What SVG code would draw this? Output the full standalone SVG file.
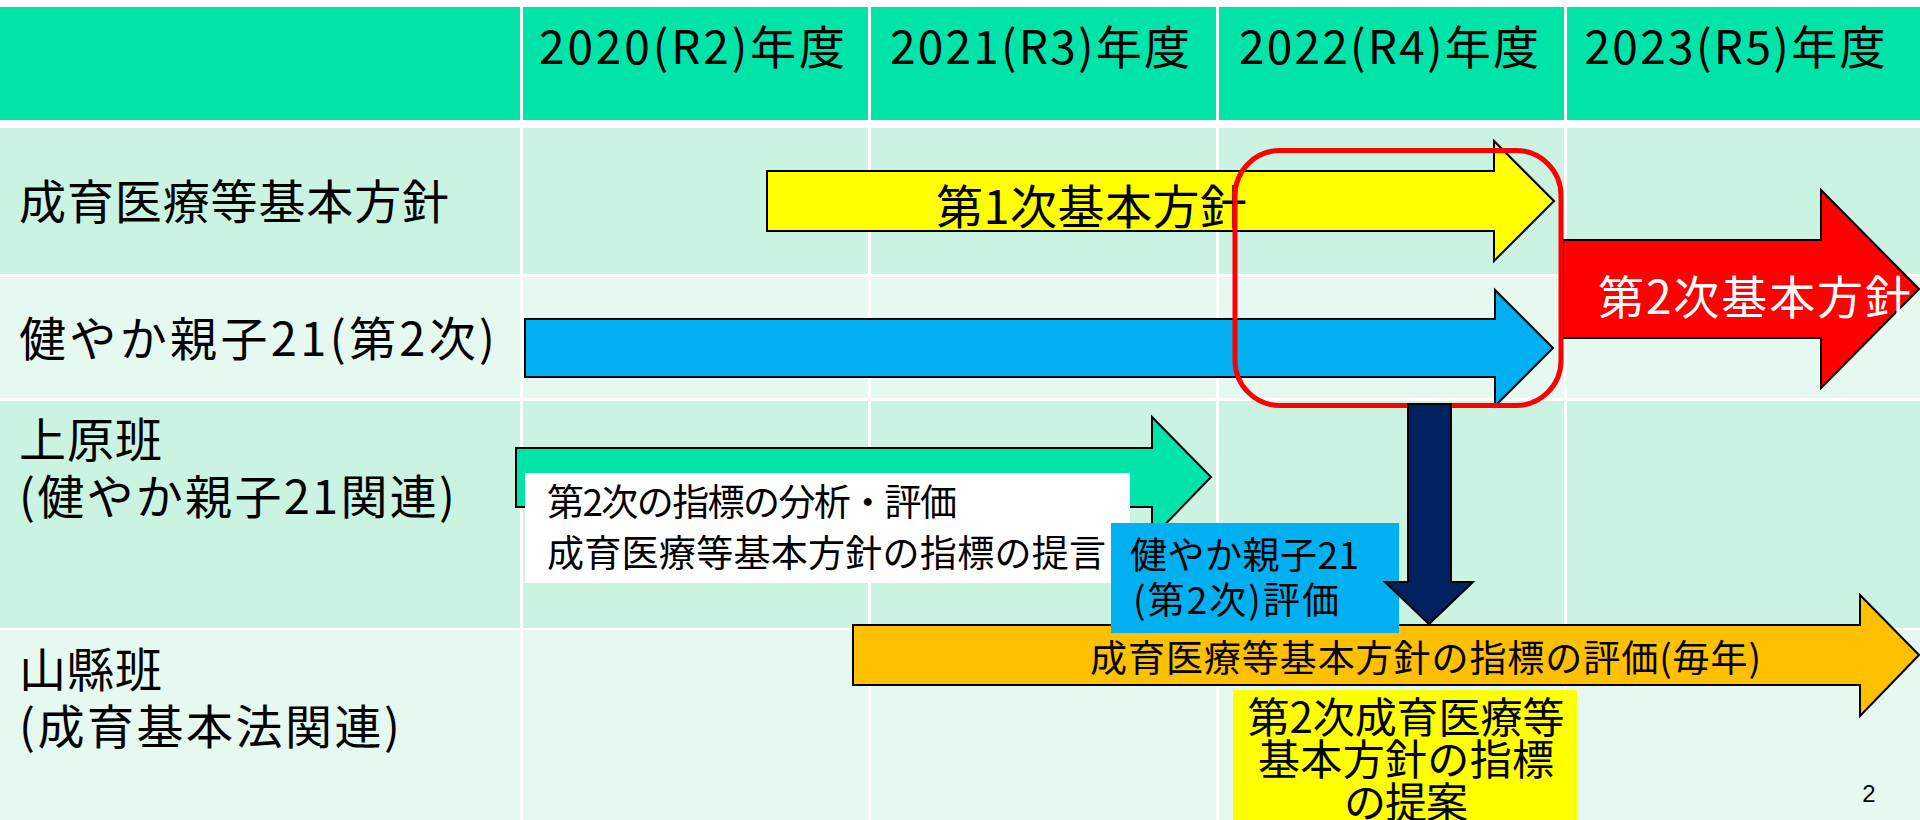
<svg xmlns="http://www.w3.org/2000/svg" width="1920" height="820" viewBox="0 0 1920 820">
<style>
.t{font-family:'Noto Sans CJK JP','Noto Sans',sans-serif;fill:#000}
.hd{font-size:46px}
.lb{font-size:47px}
.sm{font-size:37px}
.md{font-size:42px}
.ar{stroke:#000;stroke-width:2;stroke-linejoin:miter}
.vl{fill:#fff}
</style>
<rect width="1920" height="820" fill="#fff"/>
<g id="table">
  <rect x="0" y="7" width="1920" height="113" fill="#00E3A9"/>
  <rect x="0" y="128" width="1920" height="146" fill="#CBF3E1"/>
  <rect x="0" y="277" width="1920" height="121" fill="#E5F9F0"/>
  <rect x="0" y="401" width="1920" height="227" fill="#CBF3E1"/>
  <rect x="0" y="630" width="1920" height="190" fill="#E5F9F0"/>
  <rect class="vl" x="520" y="7" width="3" height="813"/>
  <rect class="vl" x="868" y="7" width="3" height="813"/>
  <rect class="vl" x="1216" y="7" width="3" height="813"/>
  <rect class="vl" x="1564" y="7" width="3" height="813"/>
</g>
<g id="header">
  <text class="t hd" x="692" y="64" text-anchor="middle" textLength="306">2020(R2)年度</text>
  <text class="t hd" x="1040" y="64" text-anchor="middle" textLength="300">2021(R3)年度</text>
  <text class="t hd" x="1389" y="64" text-anchor="middle" textLength="300">2022(R4)年度</text>
  <text class="t hd" x="1735" y="64" text-anchor="middle" textLength="301">2023(R5)年度</text>
</g>
<g id="row-labels">
  <text class="t lb" x="19" y="219" textLength="430">成育医療等基本方針</text>
  <text class="t lb" x="19" y="356" textLength="476">健やか親子21(第2次)</text>
  <text class="t lb" x="19" y="457" textLength="143">上原班</text>
  <text class="t lb" x="19" y="514" textLength="436">(健やか親子21関連)</text>
  <text class="t lb" x="19" y="687" textLength="143">山縣班</text>
  <text class="t lb" x="19" y="744" textLength="381">(成育基本法関連)</text>
</g>
<g id="first-policy">
  <polygon class="ar" fill="#FFFF00" points="767,171 1494,171 1494,141 1554,201 1494,261 1494,231 767,231"/>
  <text class="t lb" x="936" y="224" textLength="311">第1次基本方針</text>
</g>
<g id="sukoyaka-oyako">
  <polygon class="ar" fill="#00B0F0" points="525,319 1495,319 1495,290 1553,348 1495,406 1495,377 525,377"/>
</g>
<g id="second-policy">
  <polygon class="ar" fill="#FF0000" points="1563,240 1821,240 1821,190 1919,289 1821,388 1821,338 1563,338"/>
  <text class="t hd" x="1598" y="314" textLength="313" style="fill:#fff">第2次基本方針</text>
</g>
<g id="highlight">
  <rect x="1235" y="150.5" width="326" height="255" rx="45" ry="45" fill="none" stroke="#FF0000" stroke-width="5"/>
</g>
<g id="uehara">
  <polygon class="ar" fill="#00E3A9" points="516,448 1152,448 1152,417 1211,477 1152,538 1152,507 516,507"/>
  <rect x="525" y="473" width="605" height="110" fill="#fff"/>
  <text class="t sm" x="547" y="516" textLength="410">第2次の指標の分析・評価</text>
  <text class="t sm" x="547" y="567" textLength="559">成育医療等基本方針の指標の提言</text>
</g>
<g id="yamagata">
  <polygon class="ar" fill="#FFC000" points="853,625 1860,625 1860,595 1919,655 1860,716 1860,685 853,685"/>
  <text class="t sm" x="1090" y="672" textLength="671">成育医療等基本方針の指標の評価(毎年)</text>
</g>
<g id="sukoyaka-eval">
  <rect x="1111" y="523" width="288" height="110" fill="#00B0F0"/>
  <text class="t sm" x="1130" y="569" textLength="229">健やか親子21</text>
  <text class="t sm" x="1133" y="614" textLength="206">(第2次)評価</text>
</g>
<g id="proposal">
  <rect x="1233" y="690" width="344" height="130" fill="#FFFF00"/>
  <text class="t md" x="1406" y="733" text-anchor="middle" textLength="317">第2次成育医療等</text>
  <text class="t md" x="1406" y="775" text-anchor="middle" textLength="296">基本方針の指標</text>
  <text class="t md" x="1406" y="818" text-anchor="middle" textLength="124">の提案</text>
</g>
<g id="connectors">
  <polygon class="ar" fill="#002060" points="1408,404 1451,404 1451,582 1473,582 1429,624 1385,582 1408,582"/>
</g>
<g id="page-number">
  <text x="1869" y="802" text-anchor="middle" style="font-family:'Liberation Sans',sans-serif;font-size:24px;fill:#000">2</text>
</g>
</svg>
